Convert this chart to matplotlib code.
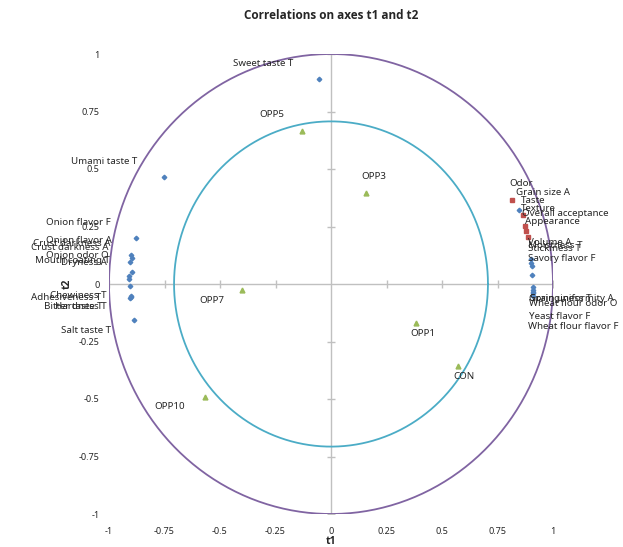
import matplotlib
matplotlib.use("Agg")
import matplotlib.pyplot as plt
import numpy as np

plt.rcParams['font.family'] = ['Noto Sans', 'DejaVu Sans']

# ---------------- data ----------------
# X variables (blue diamonds)
xvar_labels = ["Sweet taste T", "Umami taste T",
               "Onion flavor F", "Onion flavor A", "Crust darkness A", "Crust darkness A",
               "Onion odor O", "Mouth coating T", "Dryness A", "Chewiness T",
               "Adhesiveness T", "Hardness T", "Bitter taste T", "Salt taste T",
               "Grain size A", "Volume A", "Moistness T", "Stickiness T", "Savory flavor F",
               "Springiness T", "Grain uniformity A", "Wheat flour odor O",
               "Yeast flavor F", "Wheat flour flavor F"]
xvar_t1 = [-0.054, -0.752,
           -0.880, -0.902, -0.896, -0.904,
           -0.895, -0.910, -0.910, -0.904,
           -0.902, -0.904, -0.903, -0.889,
           0.848, 0.901, 0.903, 0.904, 0.904,
           0.909, 0.911, 0.910,
           0.908, 0.908]
xvar_t2 = [0.891, 0.465,
           0.199, 0.126, 0.112, 0.094,
           0.054, 0.035, 0.022, -0.009,
           -0.052, -0.059, -0.056, -0.157,
           0.322, 0.107, 0.091, 0.078, 0.041,
           -0.015, -0.026, -0.035,
           -0.041, -0.052]

# Y variables (red squares)
yvar_labels = ["Odor", "Taste", "Texture", "Overall acceptance", "Appearance"]
yvar_t1 = [0.817, 0.863, 0.872, 0.878, 0.886]
yvar_t2 = [0.367, 0.298, 0.252, 0.232, 0.204]

# Observations (green triangles)
obs_labels = ["OPP5", "OPP3", "OPP7", "OPP1", "CON", "OPP10"]
obs_t1 = [-0.131, 0.158, -0.401, 0.383, 0.572, -0.568]
obs_t2 = [0.665, 0.396, -0.026, -0.170, -0.357, -0.491]

tick_values = [-1, -0.75, -0.5, -0.25, 0, 0.25, 0.5, 0.75, 1]
tick_labels = ["-1", "-0.75", "-0.5", "-0.25", "0", "0.25", "0.5", "0.75", "1"]
circle_radii = [1.0, 0.707]

# ---------------- label layout (pixel offsets, alignment) ----------------
xvar_offsets = [(-26, 16, 'right'), (-27, 16, 'right'),
                (-25, 16, 'right'), (-19, 15, 'right'), (-22, 15, 'right'), (-22, 15, 'right'),
                (-24, 16, 'right'), (-19, 15, 'right'), (-22, 16, 'right'), (-24, -9, 'right'),
                (-30, -2, 'right'), (-24, -9, 'right'), (-28, -10, 'right'), (-23, -10, 'right'),
                (-3, 17, 'left'), (-3, 17, 'left'), (-3, 18, 'left'), (-4, 18, 'left'), (-4, 16, 'left'),
                (-3, -11, 'left'), (-4, -9, 'left'), (-4, -11, 'left'),
                (-4, -23, 'left'), (-5, -31, 'left')]
yvar_offsets = [(-3, 16, 'left'), (-2, 15, 'left'), (-4, 18, 'left'), (-4, 17, 'left'), (-3, 16, 'left')]
obs_offsets = [(-30, 17, 'center'), (8, 16, 'center'), (-30, -11, 'center'),
               (7, -10, 'center'), (6, -10, 'center'), (-35, -10, 'center')]

# ---------------- styling ----------------
C_BLUE = '#4F81BD'
C_RED = '#C0504D'
C_GREEN = '#9BBB59'
C_PURPLE = '#8064A2'
C_CYAN = '#4BACC6'
C_AXIS = '#C0C0C0'
C_TEXT = '#262626'
circle_colors = [C_PURPLE, C_CYAN]
BOLD_FONT = ['Open Sans', 'DejaVu Sans']

W, H = 623, 547
fig = plt.figure(figsize=(W / 100, H / 100), dpi=100)
ax = fig.add_axes([109 / W, 33 / H, 444 / W, 460 / H])
ax.set_xlim(-1, 1)
ax.set_ylim(-1, 1)
for s in ax.spines.values():
    s.set_visible(False)

ax.set_xticks(tick_values)
ax.set_xticklabels(tick_labels)
ax.set_yticks(tick_values)
ax.set_yticklabels(tick_labels)
ax.tick_params(axis='both', length=0, labelsize=6.5, colors=C_TEXT)
ax.tick_params(axis='x', pad=9)
ax.tick_params(axis='y', pad=7)

ax.set_xlabel('t1', fontsize=7.5, fontweight='bold', family=BOLD_FONT, color=C_TEXT, labelpad=0)
ax.set_ylabel('t2', fontsize=7.5, fontweight='bold', family=BOLD_FONT, color=C_TEXT, labelpad=4)
ax.set_title('Correlations on axes t1 and t2', fontsize=8.5, fontweight='bold',
             family=BOLD_FONT, color=C_TEXT, pad=25)

# axes through the origin
ax.axhline(0, color=C_AXIS, lw=1, zorder=1)
ax.axvline(0, color=C_AXIS, lw=1, zorder=1)
tv = [t for t in tick_values if t != 0]
ax.plot(tv, [0] * len(tv), ls='none', marker='|', ms=6, mew=1, color=C_AXIS, zorder=1)
ax.plot([0] * len(tv), tv, ls='none', marker='_', ms=6, mew=1, color=C_AXIS, zorder=1)

# circles
theta = np.linspace(0, 2 * np.pi, 500)
for r, c in zip(circle_radii, circle_colors):
    ax.plot(r * np.cos(theta), r * np.sin(theta), color=c, lw=1.3, zorder=2)

# points
ax.plot(xvar_t1, xvar_t2, ls='none', marker='D', ms=2.3, color=C_BLUE, zorder=3)
ax.plot(yvar_t1, yvar_t2, ls='none', marker='s', ms=3.3, color=C_RED, zorder=3)
ax.plot(obs_t1, obs_t2, ls='none', marker='^', ms=3.5, color=C_GREEN, zorder=3)

def put_labels(labels, xs, ys, offsets):
    for lab, x, y, (dx, dy, ha) in zip(labels, xs, ys, offsets):
        ax.annotate(lab, (x, y), xytext=(dx, dy), textcoords='offset pixels',
                    ha=ha, va='center', fontsize=7, color=C_TEXT, zorder=4,
                    annotation_clip=False)

put_labels(xvar_labels, xvar_t1, xvar_t2, xvar_offsets)
put_labels(yvar_labels, yvar_t1, yvar_t2, yvar_offsets)
put_labels(obs_labels, obs_t1, obs_t2, obs_offsets)

fig.savefig('out.png', dpi=100)
